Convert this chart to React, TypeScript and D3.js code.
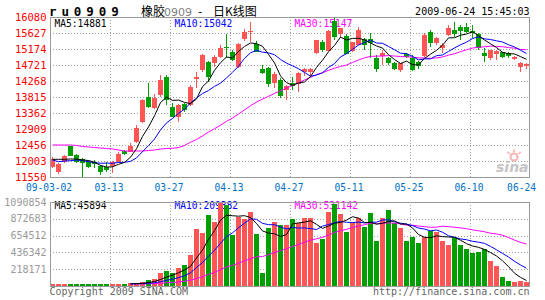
import React from 'react';
import * as d3 from 'd3';

const W = 545;
const H = 300;

// ---- data ----
const opens = [
  11843, 11701, 11984, 12437, 12173, 12060, 11984, 11984, 11871, 11843,
  11871, 11984, 12287, 12268, 12551, 13117, 13825, 13494, 13872, 14391,
  13542, 13259, 13608, 13589, 14325, 14580, 14816, 14769, 14957, 15240,
  15099, 14655, 15457, 15665, 15306, 14608, 14627, 14202, 14297, 14014,
  14221, 14174, 14514, 14514, 15052, 15382, 15127, 15967, 15590, 15552,
  15127, 15288, 15458, 15458, 14910, 14986, 14910, 14769, 14580, 15023,
  14910, 14797, 14986, 15665, 15354, 15193, 15571, 15712, 15807, 15807,
  15684, 15590, 15052, 14929, 15033, 15080, 15052, 14882, 14674, 14693,
];
const highs = [
  12126, 11947, 12173, 12440, 12211, 12098, 12022, 12022, 11890, 11984,
  12003, 12249, 12315, 12503, 13023, 13759, 14202, 13891, 14438, 14438,
  13636, 13608, 13636, 14155, 14533, 15023, 14835, 15004, 15288, 15599,
  15146, 15335, 15741, 15929, 15401, 14721, 14674, 14533, 14344, 14155,
  14391, 14514, 14627, 14627, 15429, 15429, 15712, 16043, 15778, 15599,
  15382, 15807, 15476, 15618, 15004, 15146, 14957, 14816, 14769, 15052,
  15004, 14835, 15618, 15712, 15524, 15335, 15854, 15948, 15854, 15901,
  15854, 15618, 15193, 15146, 15146, 15099, 15099, 14986, 14816, 14769,
];
const lows = [
  11815, 11626, 11956, 12145, 11947, 11550, 11815, 11796, 11607, 11701,
  11654, 11966, 12173, 12249, 12503, 13070, 13494, 13476, 13825, 13589,
  13259, 13098, 13400, 13570, 14061, 14533, 14250, 14674, 14910, 14910,
  14844, 14627, 15401, 15382, 15080, 14457, 14108, 14080, 13797, 13730,
  14014, 13947, 14410, 14391, 15023, 15099, 15118, 15429, 15495, 15023,
  15099, 15288, 15146, 14910, 14533, 14721, 14721, 14580, 14533, 14910,
  14552, 14608, 14957, 15240, 15288, 15052, 15552, 15524, 15429, 15618,
  15476, 15146, 14797, 14863, 14863, 14910, 14929, 14863, 14533, 14599,
];
const closes = [
  12060, 11928, 12155, 12155, 11984, 11947, 11843, 11918, 11701, 11748,
  11984, 12192, 12192, 12428, 12947, 13730, 13542, 13778, 14287, 13730,
  13259, 13589, 13447, 14108, 14391, 15004, 14391, 14957, 15193, 15193,
  14863, 15316, 15665, 15684, 15099, 14486, 14174, 14457, 13844, 14136,
  14127, 14486, 14608, 14608, 15429, 15146, 15684, 15524, 15760, 15033,
  15363, 15712, 15288, 15335, 14599, 15071, 14769, 14608, 14769, 14938,
  14580, 14702, 15571, 15335, 15495, 15288, 15760, 15590, 15684, 15665,
  15618, 15193, 14986, 15146, 15127, 14957, 14986, 14957, 14769, 14740,
];
const volumes = [
  0, 0, 0, 0, 0, 0, 0, 0, 0, 0,
  0, 0, 0, 9000, 17000, 20000, 53000, 67000, 142000, 177000,
  150000, 213000, 253000, 386000, 728000, 682000, 918000, 829000, 1090854, 1051000,
  652000, 887000, 865000, 962000, 665000, 150000, 741000, 821000, 785000, 785000,
  865000, 807000, 874000, 874000, 549000, 595000, 962000, 1064000, 931000, 696000,
  820000, 874000, 762000, 950000, 572000, 880000, 990000, 807000, 740000, 572000,
  621000, 549000, 629000, 710000, 696000, 572000, 519000, 608000, 519000, 466000,
  416000, 430000, 470000, 310000, 239000, 93000, 45000, 31000, 35000, 25470,
];
// moving-average values before a full window exists
const ma5Head = [12051, 12051, 12051, 12060];
const ma10Head = [12031, 11984, 12003, 12012, 12031, 12012, 11984, 11955, 11938];
const ma30Head = [
  12456, 12456, 12456, 12456, 12442, 12414, 12399, 12385, 12371, 12357,
  12343, 12314, 12286, 12286, 12286, 12286, 12300, 12314, 12343, 12357,
  12362, 12385, 12442, 12533, 12612, 12711, 12824, 12918, 13017,
];

const priceTicks = [16080, 15627, 15174, 14721, 14268, 13815, 13362, 12909, 12456, 12003, 11550];
const volTicks = [1090854, 872683, 654512, 436342, 218171];
const dateTickIdx = [0, 9, 19, 29, 39, 49, 59, 69, 79];
const dateTickLabels = ['09-03-02', '03-13', '03-27', '04-13', '04-27', '05-11', '05-25', '06-10', '06-24'];
const priceLegend = ['MA5:14881', 'MA10:15042', 'MA30:15147'];
const volLegend = ['MA5:45894', 'MA10:209382', 'MA30:531142'];

// ---- helpers ----
function movingAvg(vals: number[], n: number, head: number[]) {
  return vals.map((_, i) => {
    if (i < head.length) return head[i];
    return d3.mean(vals.slice(i - n + 1, i + 1)) as number;
  });
}
function movingAvgZero(vals: number[], n: number) {
  return vals.map((_, i) => (d3.sum(vals.slice(Math.max(0, i - n + 1), i + 1)) as number) / n);
}

const RED = '#FF5555';
const GREEN = '#009F00';
const MONO = '"DejaVu Sans Mono", monospace';
const CJK = '"Noto Sans CJK SC", sans-serif';

export default function App() {
  const idx = d3.range(closes.length);
  const L = 50, R = 529;
  const PT = 17, PB = 177;
  const VT = 202, VB = 286;

  const x = d3.scaleBand<number>().domain(idx).range([L, R]).paddingInner(1 / 6).paddingOuter(0);
  const bw = x.bandwidth();
  const step = x.step();
  const cx = (i: number) => (x(i) as number) + Math.floor(bw / 2) + 0.5;

  const y = d3.scaleLinear().domain([11550, 16080]).range([PB, PT]);
  const yv = d3.scaleLinear().domain([0, 1090854]).range([VB - 2, VT]);
  const yvGrid = d3.scaleLinear().domain([0, 1090854]).range([VB, VT]);

  const ma5 = movingAvg(closes, 5, ma5Head);
  const ma10 = movingAvg(closes, 10, ma10Head);
  const ma30 = movingAvg(closes, 30, ma30Head);
  const vma5 = movingAvgZero(volumes, 5);
  const vma10 = movingAvgZero(volumes, 10);
  const vma30 = movingAvgZero(volumes, 30);

  const pLine = (arr: number[]) =>
    d3.line<number>().x((i) => cx(i)).y((i) => y(arr[i]))(idx) || '';
  const vLine = (arr: number[]) =>
    d3
      .line<number>()
      .defined((i) => arr[i] > 0)
      .x((i) => cx(i))
      .y((i) => yv(arr[i]))(idx) || '';

  const gridX = dateTickIdx.slice(1, -1).map((i) => (x(i) as number) + step);
  const isUp = (i: number) => closes[i] >= opens[i];

  return (
    <svg
      width={W}
      height={H}
      style={{ position: 'absolute', left: 0, top: 0, background: '#fff' }}
    >
      <rect x={0} y={0} width={W} height={H} fill="#fff" />
      {/* titles */}
      <text x={49} y={15.7} fontFamily={MONO} fontWeight="bold" fontSize={12.5} letterSpacing={4.9} fill="#000">
        ru0909
      </text>
      <text y={16} fontFamily={CJK} fontSize={12} fill="#000">
        <tspan x={141}>橡胶</tspan>
        <tspan x={164} fill="#808080" fontFamily='"DejaVu Sans", sans-serif' fontSize={11}>0909</tspan>
        <tspan x={198}>-</tspan>
        <tspan x={213}>日K线图</tspan>
      </text>
      <text x={529.5} y={15.3} textAnchor="end" fontFamily={MONO} fontSize={10} fill="#000">
        2009-06-24 15:45:03
      </text>

      {/* price grid */}
      <g stroke="#A0A0A0" strokeDasharray="1,2" shapeRendering="crispEdges">
        {priceTicks.slice(1, -1).map((t) => (
          <line key={t} x1={L} x2={R} y1={Math.round(y(t)) + 0.5} y2={Math.round(y(t)) + 0.5} />
        ))}
        {gridX.map((gx) => (
          <line key={gx} x1={gx + 0.5} x2={gx + 0.5} y1={PT} y2={PB} />
        ))}
      </g>
      {/* price labels */}
      {priceTicks.map((t) => (
        <text key={t} x={46.5} y={y(t) + 3.7} textAnchor="end" fontFamily={MONO} fontSize={10.5} fill="#FF0000">
          {t}
        </text>
      ))}
      {/* price legend */}
      <g fontFamily={MONO} fontSize={9.6}>
        <text x={54.5} y={26.5} fill="#000">{priceLegend[0]}</text>
        <text x={174.5} y={26.5} fill="#0000FF">{priceLegend[1]}</text>
        <text x={294.5} y={26.5} fill="#FF00FF">{priceLegend[2]}</text>
      </g>

      {/* sina watermark */}
      <g>
        <circle cx={514} cy={157} r={3.5} fill="none" stroke="#F7B2B2" strokeWidth={2} />
        <path d="M507,152 l3,2 M514,149 v3 M521,152 l-3,2" stroke="#F7B2B2" strokeWidth={1.5} />
        <text x={496} y={172} fontFamily='"DejaVu Sans", sans-serif' fontStyle="italic" fontWeight="bold" fontSize={14} fill="#C4C4C4">
          sina
        </text>
      </g>

      {/* candles */}
      <g shapeRendering="crispEdges">
        {idx.map((i) => {
          const c = isUp(i) ? RED : GREEN;
          const top = y(Math.max(opens[i], closes[i]));
          const bot = y(Math.min(opens[i], closes[i]));
          const by = Math.round(top);
          const bh = Math.max(1, Math.round(bot) - by);
          return (
            <g key={i}>
              <line x1={cx(i)} x2={cx(i)} y1={Math.round(y(highs[i]))} y2={Math.round(y(lows[i]))} stroke={c} />
              <rect x={x(i)} y={by} width={bw} height={bh} fill={c} />
            </g>
          );
        })}
      </g>
      {/* price MA lines */}
      <g fill="none" strokeWidth={1}>
        <path d={pLine(ma30)} stroke="#FF00FF" />
        <path d={pLine(ma10)} stroke="#0000FF" />
        <path d={pLine(ma5)} stroke="#000" />
      </g>
      <rect x={L + 0.5} y={PT + 0.5} width={R - L} height={PB - PT} fill="none" stroke="#999" shapeRendering="crispEdges" />

      {/* date labels */}
      {dateTickIdx.map((i, k) => {
        const first = k === 0;
        const last = k === dateTickIdx.length - 1;
        const px = first ? L - 1 : last ? R + 7 : (x(i) as number) + step - 1;
        return (
          <text
            key={i}
            x={px}
            y={191}
            textAnchor={last ? 'end' : 'middle'}
            fontFamily={MONO}
            fontSize={9.6}
            fill="#0070C8"
          >
            {dateTickLabels[k]}
          </text>
        );
      })}

      {/* volume grid */}
      <g stroke="#A0A0A0" strokeDasharray="1,2" shapeRendering="crispEdges">
        {volTicks.slice(1).map((t) => (
          <line key={t} x1={L} x2={R} y1={Math.round(yvGrid(t)) + 0.5} y2={Math.round(yvGrid(t)) + 0.5} />
        ))}
        {gridX.map((gx) => (
          <line key={gx} x1={gx + 0.5} x2={gx + 0.5} y1={VT} y2={VB} />
        ))}
      </g>
      {volTicks.map((t) => (
        <text key={t} x={46.5} y={yvGrid(t) + 3.5} textAnchor="end" fontFamily={MONO} fontSize={10} fill="#999">
          {t}
        </text>
      ))}
      <g fontFamily={MONO} fontSize={9.6}>
        <text x={54.5} y={209} fill="#000">{volLegend[0]}</text>
        <text x={174.5} y={209} fill="#0000FF">{volLegend[1]}</text>
        <text x={294.5} y={209} fill="#FF00FF">{volLegend[2]}</text>
      </g>
      {/* volume bars */}
      <g shapeRendering="crispEdges">
        {idx.map((i) => {
          const top = Math.round(yv(volumes[i]));
          return (
            <rect key={i} x={x(i)} y={top} width={bw} height={VB - top} fill={isUp(i) ? RED : GREEN} />
          );
        })}
      </g>
      <g fill="none" strokeWidth={1}>
        <path d={vLine(vma30)} stroke="#FF00FF" />
        <path d={vLine(vma10)} stroke="#0000FF" />
        <path d={vLine(vma5)} stroke="#000" />
      </g>
      <rect x={L + 0.5} y={VT + 0.5} width={R - L} height={VB - VT} fill="none" stroke="#999" shapeRendering="crispEdges" />

      {/* footer */}
      <text x={49.5} y={295} fontFamily={MONO} fontSize={10} fill="#666">
        Copyright 2009 SINA.COM
      </text>
      <text x={529.5} y={295} textAnchor="end" fontFamily={MONO} fontSize={10} fill="#666">
        http://finance.sina.com.cn
      </text>
    </svg>
  );
}
